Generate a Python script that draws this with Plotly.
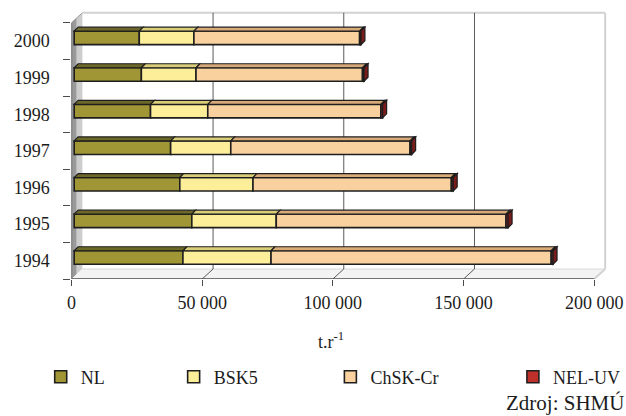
import plotly.graph_objects as go

# Emissions by year and pollutant (t per year)
years = ["1994", "1995", "1996", "1997", "1998", "1999", "2000"]
nl = [41600, 45000, 40400, 36900, 29200, 25700, 24900]
bsk5 = [33700, 32300, 28000, 23000, 21900, 20900, 20900]
chsk_cr = [107200, 87900, 75900, 68600, 66200, 63700, 63400]
nel_uv = [700, 800, 700, 600, 700, 600, 500]

series_names = ["NL", "BSK5", "ChSK-Cr", "NEL-UV"]
series_values = [nl, bsk5, chsk_cr, nel_uv]
front_colors = ["#a19636", "#fdee9a", "#f9d19e", "#c0302b"]
top_colors = ["#6e6828", "#d9cd78", "#d8aa78", "#8a2020"]
side_color = "#7a1c1c"

x_ticks = [0, 50000, 100000, 150000, 200000]
x_ticktext = ["0", "50 000", "100 000", "150 000", "200 000"]

W, H = 626, 416
AX_LEFT, AX_RIGHT_VAL_PX = 67, 594          # front axis: 0 and 200 000
AX_BOTTOM = 279                              # front axis line
CAT_PX = 36.6                                # pixels per category band
PX_PER_UNIT = (AX_RIGHT_VAL_PX - AX_LEFT) / 200000

# oblique depth of the 3-D box (data units)
DEPTH_X = 11 / PX_PER_UNIT
DEPTH_Y = 10 / CAT_PX
# bars sit a little behind the front plane
BAR_OX = 0.25 * DEPTH_X
BAR_OY = 0.32 * DEPTH_Y
# bar thickness (front-to-back)
BAR_DX = 4 / PX_PER_UNIT
BAR_DY = 4 / CAT_PX
BAR_W = 0.37

cats = list(range(len(years)))
y_lo, y_hi = -0.5, len(years) - 0.5

fig = go.Figure()
shapes = []

# ---- box: left wall, floor, back wall ----
left_wall = f"M 0,{y_lo} L 0,{y_hi} L {DEPTH_X},{y_hi + DEPTH_Y} L {DEPTH_X},{y_lo + DEPTH_Y} Z"
shapes.append(dict(type="path", path=left_wall, xref="x", yref="y",
                   fillcolor="#cdcdcd", line=dict(width=0), layer="below"))
left_wall_dark = (f"M 0,{y_lo} L 0,{y_hi} L {DEPTH_X * 0.45},{y_hi + DEPTH_Y * 0.45} "
                  f"L {DEPTH_X * 0.45},{y_lo + DEPTH_Y * 0.45} Z")
shapes.append(dict(type="path", path=left_wall_dark, xref="x", yref="y",
                   fillcolor="#999999", line=dict(width=0), layer="below"))
floor = (f"M 0,{y_lo} L 200000,{y_lo} L {200000 + DEPTH_X},{y_lo + DEPTH_Y} "
         f"L {DEPTH_X},{y_lo + DEPTH_Y} Z")
shapes.append(dict(type="path", path=floor, xref="x", yref="y",
                   fillcolor="#f3f3f3", line=dict(width=0), layer="below"))
# back-wall frame (light grey)
frame = dict(color="#d2d2d2", width=2)
shapes.append(dict(type="line", xref="x", yref="y", x0=DEPTH_X, x1=200000 + DEPTH_X,
                   y0=y_hi + DEPTH_Y, y1=y_hi + DEPTH_Y, line=frame, layer="below"))
shapes.append(dict(type="line", xref="x", yref="y", x0=200000 + DEPTH_X, x1=200000 + DEPTH_X,
                   y0=y_lo + DEPTH_Y, y1=y_hi + DEPTH_Y, line=frame, layer="below"))
shapes.append(dict(type="line", xref="x", yref="y", x0=200000, x1=200000 + DEPTH_X,
                   y0=y_lo, y1=y_lo + DEPTH_Y, line=frame, layer="below"))
shapes.append(dict(type="line", xref="x", yref="y", x0=DEPTH_X, x1=200000 + DEPTH_X,
                   y0=y_lo + DEPTH_Y, y1=y_lo + DEPTH_Y, line=dict(color="#d8d8d8", width=1),
                   layer="below"))
# gridlines on back wall and floor
grid = dict(color="#5a5a5a", width=1)
for v in x_ticks[1:-1]:
    shapes.append(dict(type="line", xref="x", yref="y", x0=v + DEPTH_X, x1=v + DEPTH_X,
                       y0=y_lo + DEPTH_Y, y1=y_hi + DEPTH_Y, line=grid, layer="below"))
    shapes.append(dict(type="line", xref="x", yref="y", x0=v, x1=v + DEPTH_X,
                       y0=y_lo, y1=y_lo + DEPTH_Y, line=grid, layer="below"))
# front axis lines
axis_line = dict(color="#4a4a4a", width=1.3)
shapes.append(dict(type="line", xref="x", yref="y", x0=0, x1=200000, y0=y_lo, y1=y_lo,
                   line=axis_line, layer="below"))
shapes.append(dict(type="line", xref="x", yref="y", x0=0, x1=0, y0=y_lo, y1=y_hi,
                   line=axis_line, layer="below"))
shapes.append(dict(type="line", xref="x", yref="y", x0=0, x1=DEPTH_X, y0=y_hi, y1=y_hi + DEPTH_Y,
                   line=dict(color="#9a9a9a", width=1), layer="below"))

# ---- stacked bars with top and end faces ----
outline = dict(color="#1e1e1e", width=1.6)
cum = [0.0] * len(years)
for s, (name, vals) in enumerate(zip(series_names, series_values)):
    base = [c + BAR_OX for c in cum]
    fig.add_trace(go.Bar(
        name=name, orientation="h",
        x=vals, base=base, y=[c + BAR_OY for c in cats], width=BAR_W,
        marker=dict(color=front_colors[s], line=outline),
        legend="legend" if s == 0 else f"legend{s + 1}",
        hoverinfo="skip",
    ))
    for i, c in enumerate(cats):
        x0 = base[i]
        x1 = base[i] + vals[i]
        yt = c + BAR_OY + BAR_W / 2
        top = (f"M {x0},{yt} L {x1},{yt} L {x1 + BAR_DX},{yt + BAR_DY} "
               f"L {x0 + BAR_DX},{yt + BAR_DY} Z")
        shapes.append(dict(type="path", path=top, xref="x", yref="y",
                           fillcolor=top_colors[s], line=dict(color="#1e1e1e", width=1.2),
                           layer="above"))
    cum = [a + b for a, b in zip(cum, vals)]

# end face of each bar (last segment colour, shaded)
for i, c in enumerate(cats):
    xe = cum[i] + BAR_OX
    yb = c + BAR_OY - BAR_W / 2
    yt = c + BAR_OY + BAR_W / 2
    side = (f"M {xe},{yb} L {xe},{yt} L {xe + BAR_DX},{yt + BAR_DY} "
            f"L {xe + BAR_DX},{yb + BAR_DY} Z")
    shapes.append(dict(type="path", path=side, xref="x", yref="y",
                       fillcolor=side_color, line=dict(color="#1e1e1e", width=1.2),
                       layer="above"))

FONT = "Liberation Serif, Times New Roman, serif"
TXT = "#1c1c1c"

legend_text_x = [81, 215, 373, 557]
legends = {}
for s, tx in enumerate(legend_text_x):
    key = "legend" if s == 0 else f"legend{s + 1}"
    legends[key] = dict(
        x=(tx - 45) / W, y=1 - 377 / H, xanchor="left", yanchor="middle",
        orientation="h", bgcolor="rgba(0,0,0,0)", borderwidth=0,
        font=dict(family=FONT, size=18, color=TXT),
        itemclick=False, itemdoubleclick=False,
    )

fig.update_layout(
    width=W, height=H,
    margin=dict(l=0, r=0, t=0, b=0),
    paper_bgcolor="white", plot_bgcolor="white",
    showlegend=True,
    barmode="overlay",
    shapes=shapes,
    font=dict(family=FONT, size=18, color=TXT),
    xaxis=dict(
        domain=[AX_LEFT / W, 1],
        range=[0, (W - AX_LEFT) / PX_PER_UNIT],
        tickvals=x_ticks, ticktext=x_ticktext,
        ticks="outside", ticklen=6, tickwidth=1.3, tickcolor="#4a4a4a",
        ticklabelstandoff=1,
        showgrid=False, zeroline=False, showline=False,
        tickfont=dict(family=FONT, size=18, color=TXT),
        fixedrange=True,
    ),
    yaxis=dict(
        domain=[1 - AX_BOTTOM / H, 1],
        range=[y_lo, y_lo + AX_BOTTOM / CAT_PX],
        # labels at band centres (invisible spacer ticks), visible ticks at band edges
        tickvals=cats, ticktext=years,
        ticks="outside", ticklen=17, tickcolor="rgba(0,0,0,0)",
        minor=dict(tickvals=[c - 0.5 for c in cats] + [y_hi], ticks="outside",
                   ticklen=7, tickwidth=1.3, tickcolor="#4a4a4a", showgrid=False),
        showgrid=False, zeroline=False, showline=False,
        tickfont=dict(family=FONT, size=18, color=TXT),
        fixedrange=True,
    ),
    annotations=[
        dict(text="t.r<sup>-1</sup>", x=329 / W, y=1 - 340 / H, xref="paper", yref="paper",
             xanchor="center", yanchor="middle",
             showarrow=False, font=dict(family=FONT, size=18, color=TXT)),
        dict(text="Zdroj: SHMÚ", x=626 / W, y=1 - 403 / H, xref="paper", yref="paper",
             xanchor="right", yanchor="middle", showarrow=False,
             font=dict(family=FONT, size=21, color=TXT)),
    ],
    **legends,
)

fig.write_html("out.html")
